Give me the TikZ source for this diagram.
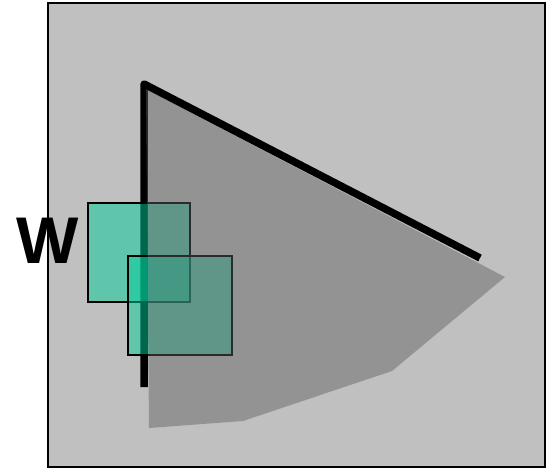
\documentclass[tikz,border=0pt]{standalone}
\usepackage{fontspec}
\setmainfont{Liberation Sans}
\usepackage{tikz}
\definecolor{panelgray}{HTML}{C0C0C0}
\definecolor{conegray}{HTML}{5F5F5F}
\definecolor{boxteal}{HTML}{00CC99}

\begin{document}
\begin{tikzpicture}[x=1pt,y=-1pt]
  \useasboundingbox (0,0) rectangle (552,469);
  \coordinate (NW) at (48,3);
  \coordinate (SE) at (545,467);
  \coordinate (L0) at (144,387);
  \coordinate (L1) at (144,84);
  \coordinate (L2) at (480,258);
  \fill[panelgray] (NW) rectangle (SE);
  \draw[line width=7.5pt,line join=round] (L0) -- (L1) -- (L2);
  \draw[line width=2pt,fill=boxteal,fill opacity=0.5] (88,203) rectangle (190,302);
  \draw[line width=2pt,fill=boxteal,fill opacity=0.5] (128,256) rectangle (232,355);
  \fill[conegray,opacity=0.46] (146,89) -- (505,277) -- (392,371)
    -- (243,421) -- (149,428) -- cycle;
  \draw[line width=2pt] (NW) rectangle (SE);
  \node[anchor=base,inner sep=0pt,font=\bfseries\fontsize{66}{66}\selectfont]
    (wlabel) at (48,263) {W};
\end{tikzpicture}
\end{document}
